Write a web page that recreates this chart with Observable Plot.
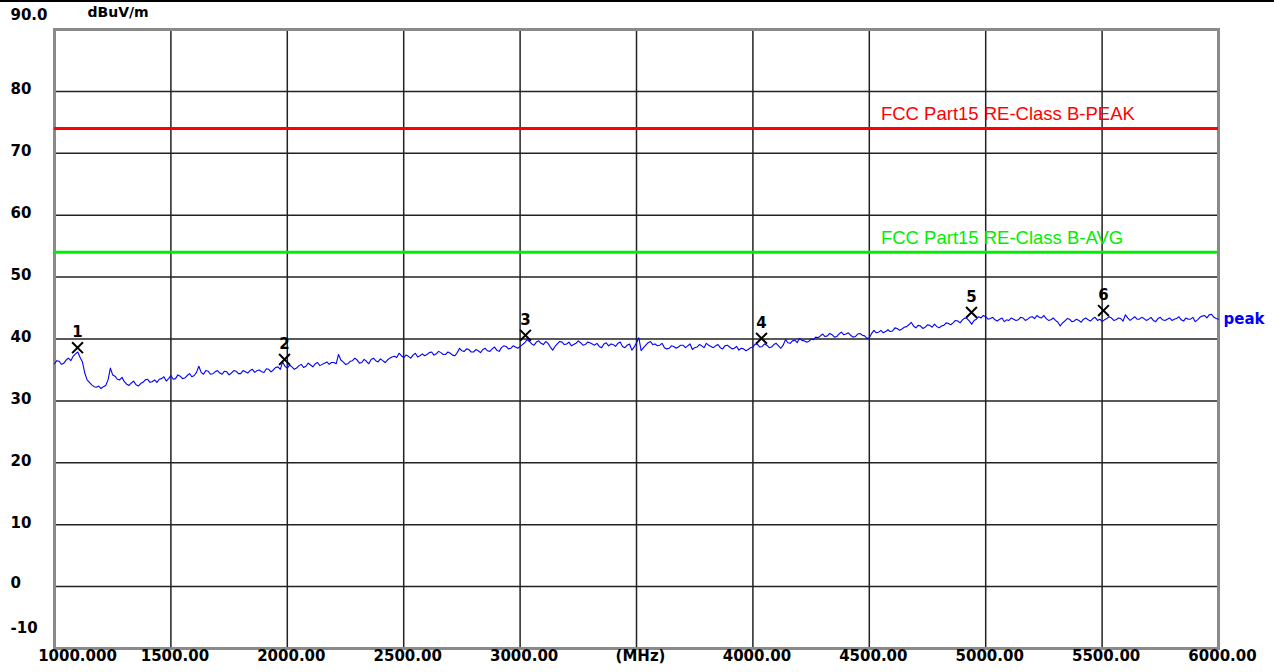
<!DOCTYPE html>
<html><head><meta charset="utf-8">
<script src="https://cdn.jsdelivr.net/npm/d3@7"></script>
<script src="https://cdn.jsdelivr.net/npm/@observablehq/plot@0.6"></script>
<style>
body{margin:0;background:#fff;}
#chart{position:absolute;left:0;top:0;}
#topline{position:absolute;left:0;top:0;width:1274px;height:2px;background:#000;}
</style>
</head><body><div id="chart"></div><div id="topline"></div>
<script>
// Trace: peak detector reading, dBuV/m, from 1000 MHz in 10 MHz steps
const freqStart = 1000;
const freqStep = 10;
const peakValues = [
36.0,36.5,36.4,35.9,36.1,36.6,36.9,36.5,37.2,37.6,37.9,37.0,36.3,34.5,33.4,33.0,32.6,32.3,32.2,32.4,
32.0,32.3,32.5,33.4,35.3,34.2,34.0,33.5,33.4,33.8,33.1,32.7,32.5,32.9,33.2,32.6,32.4,32.8,33.0,33.4,
33.5,33.0,33.1,33.4,33.0,33.5,33.6,33.9,33.2,33.6,34.1,33.5,33.6,34.2,34.0,33.6,33.7,34.1,34.4,33.9,
34.1,34.6,35.6,34.6,34.3,34.9,34.8,34.3,34.4,34.7,34.9,34.5,34.3,34.8,34.7,34.2,34.5,34.9,34.8,34.4,
34.4,34.9,34.7,34.5,34.9,35.1,34.6,34.9,35.0,34.7,34.6,35.2,35.1,34.7,35.0,35.4,35.5,35.1,36.3,35.6,
35.3,35.8,35.5,35.1,35.3,35.7,35.9,35.4,35.6,36.1,35.8,35.5,36.0,36.2,35.7,35.9,36.1,36.3,35.9,36.2,
36.2,36.0,37.5,36.6,36.3,35.9,36.0,36.4,36.5,36.9,36.6,36.1,36.2,36.7,36.4,36.0,36.7,36.9,36.5,36.3,
36.8,36.5,36.2,36.6,36.9,37.1,37.2,37.0,37.7,37.3,37.0,37.4,37.2,36.9,37.4,37.7,37.1,37.3,37.6,37.3,
37.5,37.8,37.9,37.4,37.6,38.0,37.8,37.5,37.5,37.9,37.7,37.4,37.3,37.8,38.5,38.1,38.0,38.4,38.3,37.9,
37.9,38.3,38.1,37.8,38.3,38.5,38.1,38.0,38.4,38.7,38.2,38.0,38.6,38.9,38.8,38.4,38.5,38.9,38.7,38.5,
38.8,39.1,39.4,39.9,39.6,39.2,39.0,39.5,39.7,39.3,39.1,39.6,39.3,38.7,38.2,38.8,39.2,39.6,39.5,39.1,
39.2,39.5,38.9,39.1,39.3,39.7,39.4,39.0,39.1,39.5,39.4,39.2,39.0,39.3,38.8,38.6,39.2,39.4,38.9,39.2,
39.1,38.8,39.3,39.5,38.8,38.6,39.0,39.2,38.2,38.7,39.4,40.2,38.1,38.6,39.0,39.4,39.6,39.1,39.2,38.9,
39.0,39.3,38.6,38.4,38.5,38.9,38.8,38.5,38.7,39.0,39.0,38.6,38.9,39.2,38.3,38.6,38.7,39.1,38.9,38.6,
39.3,39.0,38.8,38.6,38.9,39.1,38.6,38.4,38.9,39.0,38.7,38.4,38.5,38.8,38.2,38.5,38.4,38.1,38.3,38.6,
38.7,39.2,39.1,38.7,38.8,39.2,39.0,38.6,38.7,39.1,39.3,38.9,38.5,39.0,39.9,39.4,39.3,39.7,39.8,39.4,
40.1,39.8,39.7,39.5,39.6,40.0,39.9,40.3,40.2,40.5,40.8,40.4,40.5,40.9,40.7,40.3,40.4,40.8,41.1,40.7,
40.8,41.0,40.6,40.3,40.4,40.8,40.9,40.6,40.5,40.1,40.2,40.9,41.4,41.0,41.1,41.4,41.0,41.2,41.5,41.2,
41.3,41.8,41.7,41.4,41.6,41.9,42.0,42.3,42.7,42.1,41.8,42.2,42.1,41.7,41.9,42.3,42.2,41.9,42.4,42.0,
41.8,42.1,42.2,42.6,42.5,42.3,42.6,43.0,42.9,42.6,43.1,43.4,43.3,42.9,42.4,43.0,43.2,43.6,43.4,43.8,
43.6,43.2,43.3,43.5,43.1,42.9,43.2,43.4,42.8,43.1,43.0,43.4,43.2,43.0,43.1,43.5,43.4,43.0,43.2,43.5,
43.6,43.3,43.8,43.5,43.4,43.8,43.3,43.0,43.1,43.4,43.0,42.7,42.1,42.6,42.9,43.3,43.2,42.8,42.9,43.2,
43.0,42.7,43.2,43.4,43.1,42.9,43.3,43.5,43.0,43.2,42.8,43.1,43.3,43.6,43.4,43.0,43.1,43.4,43.3,42.9,
43.9,43.4,43.0,43.3,43.6,43.2,43.2,43.5,43.3,43.0,43.2,43.5,43.0,42.8,43.3,43.5,43.1,43.0,43.2,43.4,
43.0,43.2,43.3,43.6,43.1,42.9,43.4,43.2,43.2,43.5,42.8,43.1,43.5,43.7,43.8,43.4,43.9,44.0,43.5,43.3,
43.2
];

// Limit lines
const limitNames = ["FCC Part15 RE-Class B-PEAK", "FCC Part15 RE-Class B-AVG"];
const limitLevels = [74, 54];
const limitLabelFreq = 4550;

// Markers
const markerFreqs = [1099, 1988, 3023, 4037, 4939, 5506];
const markerValues = [38.6, 36.7, 40.6, 40.1, 44.3, 44.6];
const markerLabels = ["1", "2", "3", "4", "5", "6"];

// Axes
const xTickValues = [1000, 1500, 2000, 2500, 3000, 3500, 4000, 4500, 5000, 5500, 6000];
const xTickLabels = ["1000.000", "1500.00", "2000.00", "2500.00", "3000.00", "(MHz)", "4000.00", "4500.00", "5000.00", "5500.00", "6000.00"];
const yTickValues = [90, 80, 70, 60, 50, 40, 30, 20, 10, 0, -10];
const yTickLabels = ["90.0", "80", "70", "60", "50", "40", "30", "20", "10", "0", "-10"];
const yUnit = "dBuV/m";
const traceName = "peak";

const trace = peakValues.map((v, i) => ({f: freqStart + i * freqStep, v}));
const markers = markerFreqs.map((f, i) => ({f, v: markerValues[i], label: markerLabels[i]}));
const limits = limitNames.map((n, i) => ({name: n, level: limitLevels[i]}));
const xTicks = xTickValues.map((v, i) => ({v, label: xTickLabels[i]}));
const yTicks = yTickValues.map((v, i) => ({v, label: yTickLabels[i]}));
const gridX = xTickValues.slice(1, -1);
const gridY = yTickValues.slice(1, -1);
const limitColors = ["#ff0000", "#00ee00"];
const bold = {fontFamily: "DejaVu Sans", fontWeight: "bold", fontSize: 15, fill: "#000"};

const chart = Plot.plot({
  width: 1274,
  height: 672,
  marginLeft: 54,
  marginRight: 56,
  marginTop: 29,
  marginBottom: 24,
  x: {domain: [1000, 6000], axis: null},
  y: {domain: [-10, 90], axis: null},
  style: {background: "#fff", overflow: "visible"},
  marks: [
    Plot.ruleX(gridX, {stroke: "#222", strokeWidth: 1.5}),
    Plot.ruleY(gridY, {stroke: "#222", strokeWidth: 1.5}),
    Plot.frame({stroke: "#8a8a8a", strokeWidth: 3}),
    ...limits.map((d, i) => Plot.ruleY([d], {y: "level", stroke: limitColors[i], strokeWidth: 3})),
    ...limits.map((d, i) => Plot.text([d], {x: () => limitLabelFreq, y: "level", text: "name", textAnchor: "start", dy: -14, fill: limitColors[i], fontFamily: "Liberation Sans", fontSize: 18.5})),
    Plot.line(trace, {x: "f", y: "v", stroke: "#0000ff", strokeWidth: 1.1}),
    Plot.text([trace[trace.length - 1]], {x: "f", y: "v", text: () => traceName, textAnchor: "start", dx: 5, dy: 0, ...bold, fill: "#0000ff"}),
    Plot.dot(markers, {x: "f", y: "v", symbol: "times", r: 5, stroke: "#000", strokeWidth: 2}),
    Plot.text(markers, {x: "f", y: "v", text: "label", dy: -15, ...bold, fontSize: 15}),
    // y tick labels
    Plot.text(yTicks.filter(d => d.v < 90 && d.v > 0), {y: "v", text: "label", frameAnchor: "left", dx: -44, dy: -2, textAnchor: "start", ...bold}),
    Plot.text(yTicks.filter(d => d.v === 0), {y: "v", text: "label", frameAnchor: "left", dx: -44, dy: -3, textAnchor: "start", ...bold}),
    Plot.text(yTicks.filter(d => d.v === 90), {y: "v", text: "label", frameAnchor: "left", dx: -44, dy: -14, textAnchor: "start", ...bold}),
    Plot.text(yTicks.filter(d => d.v === -10), {y: "v", text: "label", frameAnchor: "left", dx: -44, dy: -20, textAnchor: "start", ...bold}),
    Plot.text([{v: 90}], {x: () => 1000, y: "v", text: () => yUnit, textAnchor: "start", dx: 33, dy: -17, ...bold, fontSize: 14}),
    // x tick labels
    Plot.text(xTicks.filter(d => d.v > 1000), {x: "v", text: "label", frameAnchor: "bottom", dy: 12, dx: 4, ...bold}),
    Plot.text(xTicks.filter(d => d.v === 1000), {x: "v", text: "label", frameAnchor: "bottom", dy: 12, dx: 23, ...bold})
  ]
});
document.getElementById("chart").appendChild(chart);
</script>
</body></html>
